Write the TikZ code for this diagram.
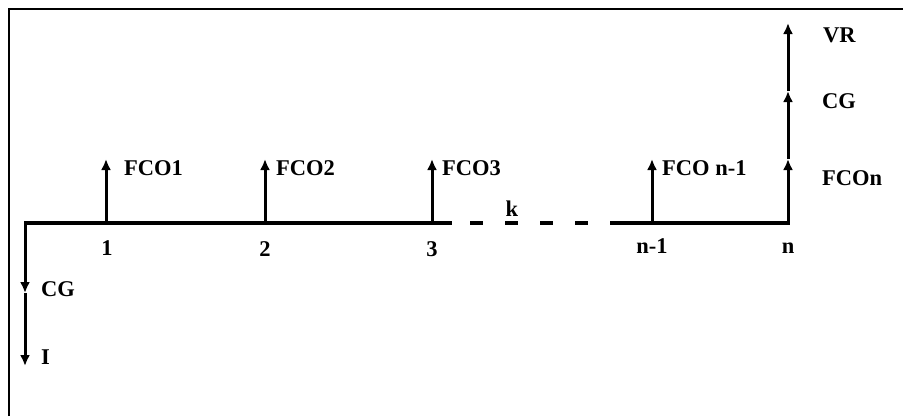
\documentclass[tikz,border=0pt]{standalone}
\usepackage{fontspec}
\setmainfont{Liberation Serif}
\usetikzlibrary{arrows.meta}
\begin{document}
\begin{tikzpicture}[x=1pt,y=-1pt,
  lbl/.style={font=\bfseries\fontsize{22.5}{24}\selectfont, inner sep=0pt},
  flow/.style={line width=3pt, -{Latex[length=11pt,width=10pt]}},
  axis/.style={line width=3.5pt},
  frame/.style={line width=2pt}]
\useasboundingbox (0,0) rectangle (903,416);
% frame (top and left)
\coordinate (fl) at (9,416);
\coordinate (fc) at (9,9);
\coordinate (fr) at (903,9);
\draw[frame] (fl) -- (fc) -- (fr);
% time line points
\coordinate (t0) at (25,223);
\coordinate (t1) at (106,223);
\coordinate (t2) at (265,223);
\coordinate (t3) at (432,223);
\coordinate (d0) at (452,223);
\coordinate (d1) at (612,223);
\coordinate (tn1) at (652,223);
\coordinate (tn) at (788,223);
\draw[axis] (t0) -- (t1) -- (t2) -- (t3) -- (d0);
\draw[axis, dash pattern=on 13pt off 22pt, dash phase=17pt] (d0) -- (d1);
\draw[axis, line join=miter] (d1) -- (tn1) -- (tn) -- ++(0,-1.5);
\node[lbl] (k) at (512,209) {k};
% upward flows
\coordinate (u1) at (106,159);
\coordinate (u2) at (265,159);
\coordinate (u3) at (432,159);
\coordinate (un1) at (652,159);
\draw[flow] (t1) -- (u1);
\draw[flow] (t2) -- (u2);
\draw[flow] (t3) -- (u3);
\draw[flow] (tn1) -- (un1);
\node[lbl, anchor=west] (f1) at (124,168) {FCO1};
\node[lbl, anchor=west] (f2) at (276,168) {FCO2};
\node[lbl, anchor=west] (f3) at (442,168) {FCO3};
\node[lbl, anchor=west] (fn1) at (662,168) {FCO n-1};
% last period stacked flows
\coordinate (r1) at (788,159);
\coordinate (r2) at (788,91);
\coordinate (r3) at (788,23);
\draw[flow] (tn) -- (r1);
\draw[flow] (r1) -- (r2);
\draw[flow] (r2) -- (r3);
\node[lbl, anchor=west] (fcon) at (822,178) {FCOn};
\node[lbl, anchor=west] (cgr) at (822,101) {CG};
\node[lbl, anchor=west] (vr) at (823,35) {VR};
% downward flows at 0
\coordinate (dw1) at (25,293);
\coordinate (dw2) at (25,366);
\draw[flow] (t0) ++(0,-1.75) -- (dw1);
\draw[flow] (dw1) -- (dw2);
\node[lbl, anchor=west] (cgl) at (41,289) {CG};
\node[lbl, anchor=west] (inv) at (41,357) {I};
% period labels
\node[lbl] (p1) at (107,248) {1};
\node[lbl] (p2) at (265,249) {2};
\node[lbl] (p3) at (432,249) {3};
\node[lbl] (pn1) at (652,246) {n-1};
\node[lbl] (pn) at (788,248) {n};
\end{tikzpicture}
\end{document}
